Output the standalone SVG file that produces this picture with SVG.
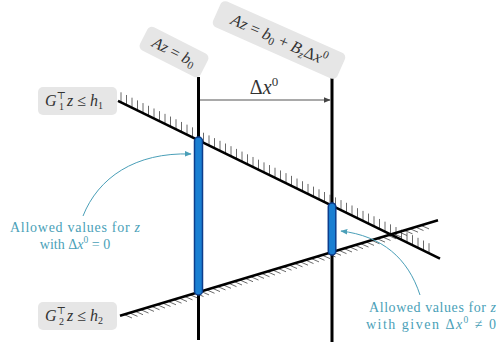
<svg xmlns="http://www.w3.org/2000/svg" width="499" height="350" viewBox="0 0 499 350">
<defs>
<style>
.math{font-family:"Liberation Serif","DejaVu Serif",serif;fill:#333;}
.it{font-style:italic;}
.box{fill:#e6e6e6;}
.teal{font-family:"Liberation Serif","DejaVu Serif",serif;fill:#4a9fb8;font-size:14px;}
.vline{stroke:#000;stroke-width:3;fill:none;}
.cline{stroke:#000;stroke-width:2.6;fill:none;}
.hatch{stroke:#444;stroke-width:0.8;fill:none;}
.bar{fill:#1a7fd2;stroke:#0c3d8c;stroke-width:1.5;}
.tarrow{stroke:#4a9fb8;stroke-width:1;fill:none;marker-end:url(#ta);}
</style>
<marker id="ga" viewBox="0 0 10 10" refX="9" refY="5" markerWidth="7" markerHeight="7" orient="auto" markerUnits="userSpaceOnUse"><path d="M0,1 L10,5 L0,9 Z" fill="#444"/></marker>
<marker id="ta" viewBox="0 0 10 10" refX="9" refY="5" markerWidth="7" markerHeight="7" orient="auto" markerUnits="userSpaceOnUse"><path d="M0,1 L10,5 L0,9 Z" fill="#4a9fb8"/></marker>
</defs>

<g id="connectors">
<path id="hatch-g1" class="hatch" d="M121,102.3 v-10m5.5,12.695 v-10m5.5,12.695 v-10m5.5,12.695 v-10m5.5,12.695 v-10m5.5,12.695 v-10m5.5,12.695 v-10m5.5,12.695 v-10m5.5,12.695 v-10m5.5,12.695 v-10m5.5,12.695 v-10m5.5,12.695 v-10m5.5,12.695 v-10m5.5,12.695 v-10m5.5,12.695 v-10m5.5,12.695 v-10m5.5,12.695 v-10m5.5,12.695 v-10m5.5,12.695 v-10m5.5,12.695 v-10m5.5,12.695 v-10m5.5,12.695 v-10m5.5,12.695 v-10m5.5,12.695 v-10m5.5,12.695 v-10m5.5,12.695 v-10m5.5,12.695 v-10m5.5,12.695 v-10m5.5,12.695 v-10m5.5,12.695 v-10m5.5,12.695 v-10m5.5,12.695 v-10m5.5,12.695 v-10m5.5,12.695 v-10m5.5,12.695 v-10m5.5,12.695 v-10m5.5,12.695 v-10m5.5,12.695 v-10m5.5,12.695 v-10m5.5,12.695 v-10m5.5,12.695 v-10m5.5,12.695 v-10m5.5,12.695 v-10m5.5,12.695 v-10m5.5,12.695 v-10m5.5,12.695 v-10m5.5,12.695 v-10m5.5,12.695 v-10m5.5,12.695 v-10m5.5,12.695 v-10m5.5,12.695 v-10m5.5,12.695 v-10m5.5,12.695 v-10m5.5,12.695 v-10m5.5,12.695 v-10m5.5,12.695 v-10m5.5,12.695 v-10"/>
<path id="hatch-g2" class="hatch" d="M124,314.5 l8,3.5m-2.5,-5.15 l8,3.5m-2.5,-5.15 l8,3.5m-2.5,-5.15 l8,3.5m-2.5,-5.15 l8,3.5m-2.5,-5.15 l8,3.5m-2.5,-5.15 l8,3.5m-2.5,-5.15 l8,3.5m-2.5,-5.15 l8,3.5m-2.5,-5.15 l8,3.5m-2.5,-5.15 l8,3.5m-2.5,-5.15 l8,3.5m-2.5,-5.15 l8,3.5m-2.5,-5.15 l8,3.5m-2.5,-5.15 l8,3.5m-2.5,-5.15 l8,3.5m-2.5,-5.15 l8,3.5m-2.5,-5.15 l8,3.5m-2.5,-5.15 l8,3.5m-2.5,-5.15 l8,3.5m-2.5,-5.15 l8,3.5m-2.5,-5.15 l8,3.5m-2.5,-5.15 l8,3.5m-2.5,-5.15 l8,3.5m-2.5,-5.15 l8,3.5m-2.5,-5.15 l8,3.5m-2.5,-5.15 l8,3.5m-2.5,-5.15 l8,3.5m-2.5,-5.15 l8,3.5m-2.5,-5.15 l8,3.5m-2.5,-5.15 l8,3.5m-2.5,-5.15 l8,3.5m-2.5,-5.15 l8,3.5m-2.5,-5.15 l8,3.5m-2.5,-5.15 l8,3.5m-2.5,-5.15 l8,3.5m-2.5,-5.15 l8,3.5m-2.5,-5.15 l8,3.5m-2.5,-5.15 l8,3.5m-2.5,-5.15 l8,3.5m-2.5,-5.15 l8,3.5m-2.5,-5.15 l8,3.5m-2.5,-5.15 l8,3.5m-2.5,-5.15 l8,3.5m-2.5,-5.15 l8,3.5m-2.5,-5.15 l8,3.5m-2.5,-5.15 l8,3.5m-2.5,-5.15 l8,3.5m-2.5,-5.15 l8,3.5m-2.5,-5.15 l8,3.5m-2.5,-5.15 l8,3.5m-2.5,-5.15 l8,3.5m-2.5,-5.15 l8,3.5m-2.5,-5.15 l8,3.5m-2.5,-5.15 l8,3.5"/>
<line class="cline" x1="118" y1="100.8" x2="440" y2="258.6"/>
<line class="cline" x1="120" y1="315.7" x2="438" y2="220.3"/>
<line class="vline" x1="198.5" y1="77" x2="198.5" y2="340"/>
<line class="vline" x1="332" y1="77" x2="332" y2="342"/>
<line x1="200" y1="100" x2="330" y2="100" stroke="#555" stroke-width="1.2" marker-end="url(#ga)"/>
<path class="tarrow" d="M83,216 C98,178 135,152 191,154"/>
<path class="tarrow" d="M420,295 C408,258 382,236 341,231"/>
</g>

<g id="bar1"><rect class="bar" x="194.5" y="137" width="8" height="158" rx="4"/></g>
<g id="bar2"><rect class="bar" x="328.3" y="203" width="7.5" height="52" rx="3.75"/></g>

<g id="delta-label"><text class="math" x="264" y="94" font-size="20" text-anchor="middle">Δ<tspan class="it">x</tspan><tspan font-size="13" dy="-8">0</tspan></text></g>

<g id="label-az-b0" transform="translate(174,52) rotate(27)">
<rect class="box" x="-34" y="-13" width="68" height="26" rx="5"/>
<text class="math" x="0" y="5" font-size="16" text-anchor="middle"><tspan class="it">Az</tspan> = <tspan class="it">b</tspan><tspan font-size="11" dy="3">0</tspan></text>
</g>

<g id="label-az-b0-bz" transform="translate(279,40) rotate(24)">
<rect class="box" x="-68" y="-14" width="136" height="28" rx="5"/>
<text class="math" x="0" y="5" font-size="16.5" text-anchor="middle"><tspan class="it">Az</tspan> = <tspan class="it">b</tspan><tspan font-size="11" dy="3">0</tspan><tspan dy="-3"> + </tspan><tspan class="it">B</tspan><tspan class="it" font-size="11" dy="3">z</tspan><tspan dy="-3">Δ</tspan><tspan class="it">x</tspan><tspan font-size="11" dy="-7">0</tspan></text>
</g>

<g id="label-g1">
<rect class="box" x="38" y="87" width="79" height="28" rx="5"/>
<text class="math" x="45" y="106" font-size="16"><tspan class="it">G</tspan><tspan font-size="10" dy="-7">⊤</tspan><tspan font-size="10" dx="-7" dy="11">1</tspan><tspan class="it" dx="3" dy="-4">z</tspan> ≤ <tspan class="it">h</tspan><tspan font-size="10" dy="3">1</tspan></text>
</g>

<g id="label-g2">
<rect class="box" x="38" y="302" width="79" height="28" rx="5"/>
<text class="math" x="45" y="321" font-size="16"><tspan class="it">G</tspan><tspan font-size="10" dy="-7">⊤</tspan><tspan font-size="10" dx="-7" dy="11">2</tspan><tspan class="it" dx="3" dy="-4">z</tspan> ≤ <tspan class="it">h</tspan><tspan font-size="10" dy="3">2</tspan></text>
</g>

<g id="note-left">
<text class="teal" x="10" y="232" textLength="130" lengthAdjust="spacing">Allowed values for <tspan font-style="italic">z</tspan></text>
<text class="teal" x="75" y="249" text-anchor="middle">with Δ<tspan font-style="italic">x</tspan><tspan font-size="9.5" dy="-6">0</tspan><tspan dy="6"> = 0</tspan></text>
</g>

<g id="note-right">
<text class="teal" x="369" y="312" textLength="127" lengthAdjust="spacing">Allowed values for <tspan font-style="italic">z</tspan></text>
<text class="teal" x="366" y="329" textLength="130" lengthAdjust="spacing">with given Δ<tspan font-style="italic">x</tspan><tspan font-size="9.5" dy="-6">0</tspan><tspan dy="6"> ≠ 0</tspan></text>
</g>
</svg>
